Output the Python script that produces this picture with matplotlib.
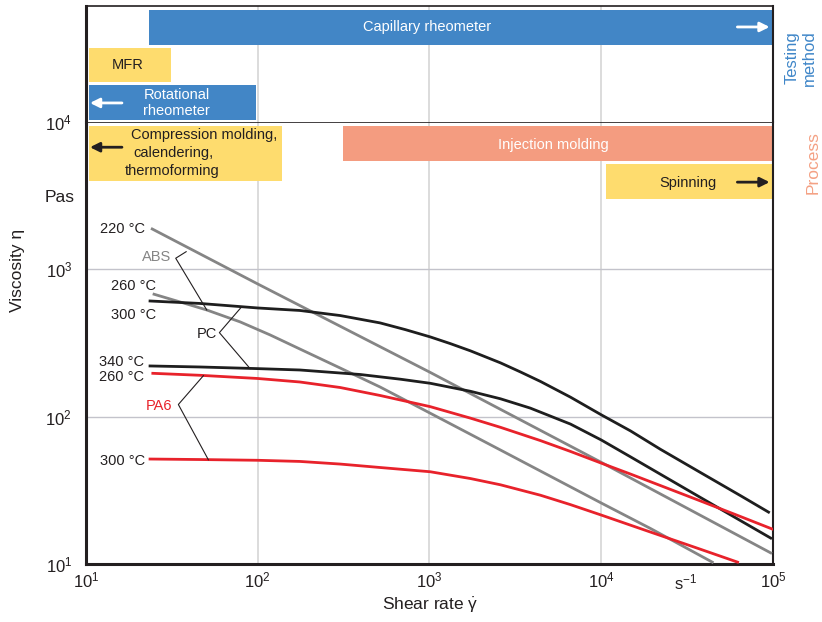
import matplotlib.pyplot as plt
from matplotlib.transforms import blended_transform_factory

plt.rcParams['font.family'] = ['Liberation Sans', 'DejaVu Sans']
plt.rcParams['mathtext.fontset'] = 'custom'
plt.rcParams['mathtext.rm'] = 'Liberation Sans'
plt.rcParams['mathtext.it'] = 'Liberation Sans'
plt.rcParams['mathtext.bf'] = 'Liberation Sans:bold'

# --- flow curves: shear rate [1/s] vs viscosity [Pa s] ---
abs220_rate = [24.3, 100, 1000, 1e4, 9.7e4]
abs220_eta = [1880, 796, 201, 49, 11.9]
abs260_rate = [24.9, 35.3, 50.5, 79, 118, 176, 302, 516, 1010, 2590, 5060,
               1e4, 1.94e4, 4.43e4]
abs260_eta = [678, 601, 530, 440, 359, 288, 214, 159, 105.6, 59.4, 39.4,
              25.95, 17.4, 10.3]
pc300_rate = [23.6, 46.1, 100, 176, 302, 516, 723, 1010, 1321, 1730, 2590,
              3380, 4430, 6620, 1e4, 1.48e4, 2.21e4, 3.78e4, 6.47e4, 9.42e4]
pc300_eta = [610, 587, 547, 526, 486, 433, 390, 348, 313.5, 280, 232,
             201.4, 173.4, 135.7, 103, 80.1, 60.1, 41.8, 29.1, 22.5]
pc340_rate = [23.6, 46.1, 100, 176, 395, 676, 1010, 1730, 2590, 3860, 6620,
              1e4, 1.48e4, 2.21e4, 3.78e4, 6.47e4, 9.7e4]
pc340_eta = [221, 217.5, 212, 207.5, 193.4, 179.7, 168.6, 148.8, 132.3, 114.4,
             89.1, 69.5, 53.4, 40.7, 28.3, 19.7, 15.0]
pa260_rate = [24.5, 46.1, 100, 176, 302, 516, 1010, 1730, 2590, 4430, 6620,
              1e4, 1.48e4, 2.21e4, 3.78e4, 6.47e4, 1e5]
pa260_eta = [197, 191, 181.7, 172, 157.8, 139.3, 117, 97.8, 84.7, 68.8, 58.1,
             48.4, 40.8, 34.1, 26.8, 21.0, 17.2]
pa300_rate = [23.6, 46.1, 100, 176, 302, 516, 1010, 1730, 2590, 4430, 6620,
              1e4, 1.69e4, 2.53e4, 3.78e4, 6.22e4]
pa300_eta = [51.6, 51.2, 50.6, 49.7, 47.7, 45.2, 42.3, 38.05, 34.5, 29.3, 25.3,
             21.5, 17.4, 14.8, 12.6, 10.3]

# --- shear-rate ranges of testing methods and processes [1/s] ---
testing_names = ['Capillary rheometer', 'MFR', 'Rotational\nrheometer']
testing_ranges = [(23.3, 9.8e4), (10.4, 31.3), (10.4, 98)]
process_names = ['Compression molding,\ncalendering,\nthermoforming',
                 'Injection molding', 'Spinning']
process_ranges = [(10.4, 138), (315, 9.8e4), (1.06e4, 9.8e4)]

# --- leader lines (bracket vertex in the middle) ---
abs_leader = ([38.3, 33.3, 50.5], [1318, 1190, 530])
pc_leader = ([80.7, 59.8, 90.3], [558, 372, 212])
pa6_leader = ([48.3, 34.5, 51.6], [190, 121, 51])

BLUE = '#4286c6'
YELLOW = '#fedc6e'
SALMON = '#f49c80'
GRAY = '#858585'
BLACK = '#1e1e1e'
RED = '#e8222b'
TXT = '#231f20'

fig = plt.figure(figsize=(8.22, 6.22), dpi=100)
ax = fig.add_axes([0.1046, 0.0932, 0.8358, 0.7106])
top = fig.add_axes([0.1046, 0.8039, 0.8358, 0.1865], sharex=ax)

for a in (ax, top):
    a.set_xscale('log')
    a.set_xlim(10, 1e5)
    a.tick_params(length=0)
    for x in (1e2, 1e3, 1e4):
        a.axvline(x, color='#d6d6d6', lw=1.2, zorder=0)
    a.spines['left'].set_linewidth(2.2)
    a.spines['right'].set_linewidth(1.5)
    a.spines['top'].set_linewidth(1.2)
    for s in a.spines.values():
        s.set_color(TXT)

ax.set_yscale('log')
ax.set_ylim(10, 1e4)
ax.spines['bottom'].set_linewidth(2.2)
for y in (1e2, 1e3):
    ax.axhline(y, color='#c3c3cb', lw=1, zorder=0)

ax.set_xticks([1e1, 1e2, 1e3, 1e4, 1e5])
ax.set_xticklabels([r'$\mathdefault{10^{%d}}$' % k for k in range(1, 6)])
ax.set_yticks([1e1, 1e2, 1e3, 1e4])
ax.set_yticklabels([r'$\mathdefault{10^{%d}}$' % k for k in range(1, 5)])
ax.minorticks_off()
ax.tick_params(axis='x', pad=5, labelsize=12, colors=TXT)
ax.tick_params(axis='y', pad=10, labelsize=12, colors=TXT)

top.set_ylim(0, 1)
top.set_yticks([])
top.tick_params(axis='x', labelbottom=False)
top.spines['bottom'].set_visible(False)

# testing method bars
t_rows = [(0.666, 0.966), (0.345, 0.638), (0.017, 0.319)]
t_cols = [BLUE, YELLOW, BLUE]
for (x0, x1), (y0, y1), c in zip(testing_ranges, t_rows, t_cols):
    top.axvspan(x0, x1, ymin=y0, ymax=y1, color=c, lw=0, zorder=2)
top.text(970, 0.819, testing_names[0], color='white', fontsize=10.5,
         ha='center', va='center', zorder=3)
top.text(17.6, 0.491, testing_names[1], color=TXT, fontsize=10.5,
         ha='center', va='center', zorder=3)
top.text(33.8, 0.164, testing_names[2], color='white', fontsize=10.5,
         ha='center', va='center', multialignment='center', zorder=3)
top.annotate('', xy=(9.55e4, 0.819), xytext=(6.2e4, 0.819),
             arrowprops=dict(arrowstyle='-|>', color='white', lw=2,
                             mutation_scale=14, shrinkA=0, shrinkB=0), zorder=3)
top.annotate('', xy=(10.55, 0.164), xytext=(16.2, 0.164),
             arrowprops=dict(arrowstyle='-|>', color='white', lw=2,
                             mutation_scale=14, shrinkA=0, shrinkB=0), zorder=3)

# process bars
p_rows = [(0.867, 0.991), (0.912, 0.991), (0.8265, 0.905)]
p_cols = [YELLOW, SALMON, YELLOW]
for (x0, x1), (y0, y1), c in zip(process_ranges, p_rows, p_cols):
    ax.axvspan(x0, x1, ymin=y0, ymax=y1, color=c, lw=0, zorder=2)

tr = blended_transform_factory(ax.transData, ax.transAxes)
comp_lines = process_names[0].split('\n')
for line, xl, yl in zip(comp_lines, [18.3, 18.8, 16.9], [0.9706, 0.9306, 0.889]):
    ax.text(xl, yl, line, transform=tr, color=TXT, fontsize=10.5,
            ha='left', va='center', zorder=3)
ax.text(5270, 0.948, process_names[1], transform=tr, color='white',
        fontsize=10.5, ha='center', va='center', zorder=3)
ax.text(3.18e4, 0.863, process_names[2], transform=tr, color=TXT,
        fontsize=10.5, ha='center', va='center', zorder=3)
ax.annotate('', xy=(10.55, 0.943), xytext=(16.2, 0.943), xycoords=tr,
            textcoords=tr,
            arrowprops=dict(arrowstyle='-|>', color=TXT, lw=2,
                            mutation_scale=14, shrinkA=0, shrinkB=0), zorder=3)
ax.annotate('', xy=(9.55e4, 0.864), xytext=(6.2e4, 0.864), xycoords=tr,
            textcoords=tr,
            arrowprops=dict(arrowstyle='-|>', color=TXT, lw=2,
                            mutation_scale=14, shrinkA=0, shrinkB=0), zorder=3)

# flow curves
curve_style = dict(lw=2.0, zorder=4, solid_joinstyle='round')
ax.plot(abs220_rate, abs220_eta, color=GRAY, **curve_style)
ax.plot(abs260_rate, abs260_eta, color=GRAY, **curve_style)
ax.plot(pc300_rate, pc300_eta, color=BLACK, **curve_style)
ax.plot(pc340_rate, pc340_eta, color=BLACK, **curve_style)
ax.plot(pa260_rate, pa260_eta, color=RED, **curve_style)
ax.plot(pa300_rate, pa300_eta, color=RED, **curve_style)

for xs, ys in (abs_leader, pc_leader, pa6_leader):
    ax.plot(xs, ys, color=TXT, lw=0.8, zorder=5)

# curve labels
lab = dict(fontsize=10.5, ha='right', va='center', zorder=5)
ax.text(22.1, 1880, '220 °C', color=TXT, **lab)
ax.text(25.6, 771, '260 °C', color=TXT, **lab)
ax.text(25.6, 490, '300 °C', color=TXT, **lab)
ax.text(21.8, 236, '340 °C', color=TXT, **lab)
ax.text(21.8, 187, '260 °C', color=TXT, **lab)
ax.text(22.1, 50, '300 °C', color=TXT, **lab)
ax.text(31.3, 1208, 'ABS', color=GRAY, **lab)
ax.text(58, 364, 'PC', color=TXT, **lab)
ax.text(31.7, 118, 'PA6', color=RED, **lab)

# axis titles and units
fig.text(0.0207, 0.566, 'Viscosity η', rotation=90, fontsize=12.5,
         color=TXT, ha='center', va='center')
fig.text(0.0912, 0.6817, 'Pas', fontsize=12.5, color=TXT,
         ha='right', va='center')
fig.text(0.523, (622 - 605) / 622, r'Shear rate $\dot{\gamma}$', fontsize=12.5,
         color=TXT, ha='center', va='center')
tr_x = blended_transform_factory(ax.transData, fig.transFigure)
ax.text(3.1e4, (622 - 582) / 622, r's$^{\mathdefault{-1}}$', transform=tr_x,
        fontsize=12, color=TXT, ha='center', va='center')

fig.text(0.9745, 0.9068, 'Testing\nmethod', rotation=90, fontsize=12,
         color='#3f86c8', ha='center', va='center', multialignment='center')
fig.text(0.989, (622 - 163) / 622, 'Process', rotation=90, fontsize=12.5,
         color='#f4a184', ha='center', va='center')

fig.savefig('out.png', dpi=100)
